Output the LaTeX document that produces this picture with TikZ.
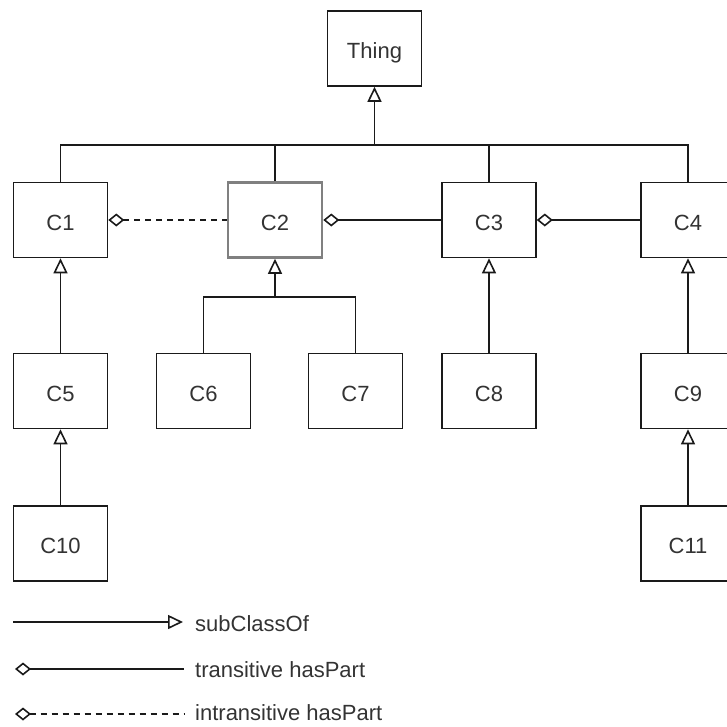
\documentclass[tikz,border=0pt]{standalone}
\usepackage{fontspec}
\setmainfont{Liberation Sans}
\usetikzlibrary{arrows.meta}
\definecolor{ink}{HTML}{1A1A1A}
\definecolor{txt}{HTML}{333333}
\definecolor{selgray}{HTML}{808080}

\begin{document}
\begin{tikzpicture}[x=1pt,y=-1pt,
  cls/.style={draw=ink, line width=1.6pt, fill=white,
    minimum width=94pt, minimum height=75pt, inner sep=0pt,
    text=txt, font=\fontsize{22}{26}\selectfont,
    text height=20pt, text depth=0pt},
  key/.style={anchor=base west, inner sep=0pt, text=txt,
    font=\fontsize{22}{26}\selectfont},
  link/.style={draw=ink, line width=1.6pt},
  isa/.style={link, -{Triangle[open, length=15pt, width=14pt]}},
  part/.style={link, {Diamond[open, length=16pt, width=13pt]}-},
  weak/.style={part, dash pattern=on 6pt off 5pt}]

\clip (0,0) rectangle (727,726);

% classes
\node[cls] (thing) at (374.5,48.5) {Thing};
\node[cls] (c1)  at (60.5,220)  {C1};
\node[cls, draw=selgray, line width=2.6pt] (c2) at (275,220) {C2};
\node[cls] (c3)  at (489,220)  {C3};
\node[cls] (c4)  at (688,220)  {C4};
\node[cls] (c5)  at (60.5,391) {C5};
\node[cls] (c6)  at (203.5,391) {C6};
\node[cls] (c7)  at (355.5,391) {C7};
\node[cls] (c8)  at (489,391)  {C8};
\node[cls] (c9)  at (688,391)  {C9};
\node[cls] (c10) at (60.5,543.5) {C10};
\node[cls] (c11) at (688,543.5) {C11};

% subclass tree under Thing
\coordinate (top) at (374.5,145);
\draw[link] (c1.north) |- (top);
\draw[link] (c2.north) |- (top);
\draw[link] (c3.north) |- (top);
\draw[link] (c4.north) |- (top);
\draw[isa] (top) -- (thing.south);

% C6 and C7 under C2
\coordinate (mid) at (275,297);
\draw[link] (c6.north) |- (mid);
\draw[link] (c7.north) |- (mid);
\draw[isa] (mid) -- (c2.south);

% single subclass links
\draw[isa] (c5.north) -- (c1.south);
\draw[isa] (c8.north) -- (c3.south);
\draw[isa] (c9.north) -- (c4.south);
\draw[isa] (c10.north) -- (c5.south);
\draw[isa] (c11.north) -- (c9.south);

% hasPart relations
\draw[weak] (c1.east) -- (c2.west);
\draw[part] (c2.east) -- (c3.west);
\draw[part] (c3.east) -- (c4.west);

% legend
\coordinate (k1a) at (13,622);
\coordinate (k1b) at (183,622);
\draw[isa] (k1a) -- (k1b);
\node[key] (k1) at (195,631) {subClassOf};

\coordinate (k2a) at (15,669);
\coordinate (k2b) at (184,669);
\draw[part] (k2a) -- (k2b);
\node[key] (k2) at (195,677) {transitive hasPart};

\coordinate (k3a) at (15,714);
\coordinate (k3b) at (184,714);
\draw[weak] (k3a) -- (k3b);
\node[key] (k3) at (195,720) {intransitive hasPart};
\end{tikzpicture}
\end{document}
